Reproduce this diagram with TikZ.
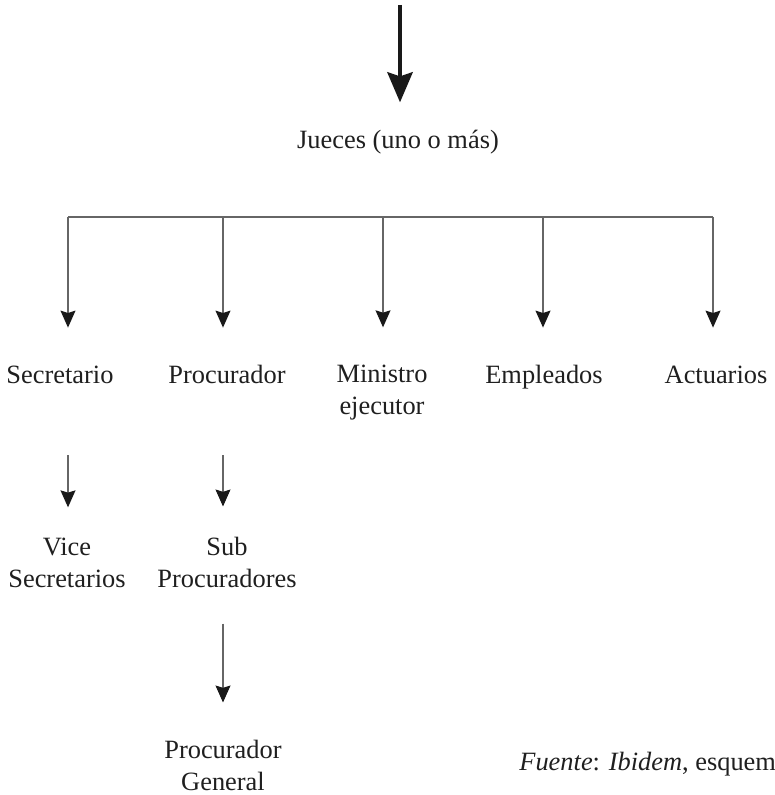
\documentclass[tikz,border=0pt]{standalone}
\usepackage{fontspec}
\setmainfont{Liberation Serif}
\usetikzlibrary{arrows.meta}

\tikzset{
  lbl/.style={font=\fontsize{13.2pt}{16pt}\selectfont, text=black!88, inner sep=0pt, text height=9.1pt, text depth=2.9pt, anchor=base},
  lbltwo/.style={font=\fontsize{13.2pt}{16pt}\selectfont, text=black!88, inner sep=0pt, align=center, anchor=base},
  conn/.style={draw=black!60, line width=0.55pt, -{Stealth[length=8.5pt,width=7.5pt,inset=1.2pt,color=black!90]}},
  bigconn/.style={draw=black!90, line width=2.4pt, -{Stealth[length=15pt,width=12.5pt,inset=2pt]}}
}

\begin{document}
\begin{tikzpicture}[x=0.5pt, y=-0.5pt]
\useasboundingbox (0,0) rectangle (774,795);

% Arriba
\coordinate (top) at (400,5);
\node[lbl] (jueces) at (398,149) {Jueces (uno o más)};
\draw[bigconn, shorten >=14pt] (top) -- (top |- jueces.north);

% Barra horizontal
\coordinate (b1) at (68,217);
\coordinate (b2) at (223,217);
\coordinate (b3) at (383,217);
\coordinate (b4) at (543,217);
\coordinate (b5) at (713,217);
\draw[draw=black!60, line width=0.55pt] (b1) -- (b5);

% Primer nivel (base de la ultima linea)
\node[lbl] (sec) at (60,384) {Secretario};
\node[lbl] (proc) at (227,384) {Procurador};
\node[lbltwo] (min) at (382,415) {Ministro\\ejecutor};
\node[lbl] (emp) at (544,384) {Empleados};
\node[lbl] (act) at (716,384) {Actuarios};

\foreach \b/\n in {b1/sec, b2/proc, b3/min, b4/emp, b5/act}
  \draw[conn, shorten >=18.9pt] (\b) -- (\b |- \n.north);

% Segundo nivel
\node[lbltwo] (vice) at (67,587) {Vice\\Secretarios};
\node[lbltwo] (sub) at (227,587) {Sub\\Procuradores};
\draw[conn, shorten <=32.6pt, shorten >=14.9pt] (sec.south -| b1) -- (vice.north -| b1);
\draw[conn, shorten <=32.6pt, shorten >=14.9pt] (proc.south -| b2) -- (sub.north -| b2);

% Tercer nivel
\node[lbltwo] (pgen) at (223,790) {Procurador\\General};
\draw[conn, shorten <=18pt, shorten >=18.4pt] (sub.south -| b2) -- (pgen.north -| b2);

% Fuente
\node[lbl, anchor=base west] (fuente) at (519,770) {\textit{Fuente}: \textit{Ibidem}, esquema};
\end{tikzpicture}
\end{document}
